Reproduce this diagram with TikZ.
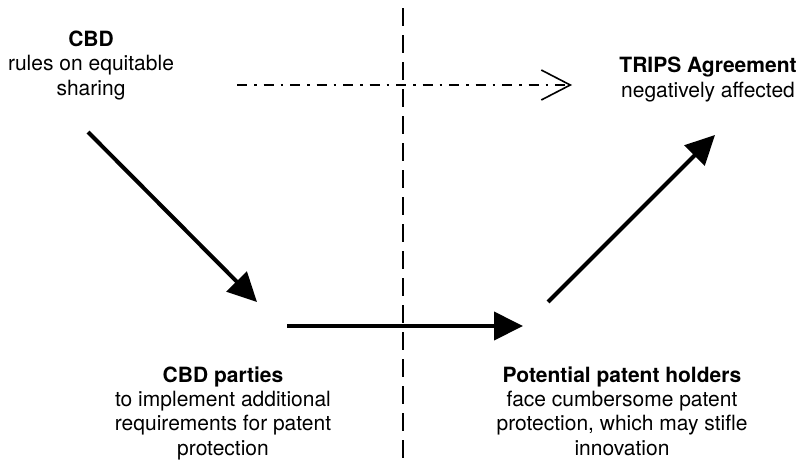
\documentclass[tikz,border=0pt]{standalone}
\usepackage{fontspec}
\setmainfont{TeX Gyre Heros}
\usetikzlibrary{arrows.meta}

\begin{document}
\begin{tikzpicture}[x=1pt,y=-1pt,
    txt/.style={align=center,anchor=base,inner sep=0pt,font=\fontsize{21}{24.3}\selectfont},
    flow/.style={line width=4pt,-{Triangle[length=29pt,width=28pt]}},
    hint/.style={line width=1.6pt,dash pattern=on 10pt off 7pt on 2.5pt off 7pt,
        -{Straight Barb[length=29pt,width=30pt,line width=1.6pt]}},
    border/.style={line width=2.2pt,dash pattern=on 18pt off 9pt}
  ]
    \useasboundingbox (0,0) rectangle (805,464);

    % the four parties (placed by the baseline of their last line)
    \node[txt] (cbd) at (91,95) {\textbf{CBD}\\rules on equitable\\sharing};
    \node[txt] (trips) at (708,97) {\textbf{TRIPS Agreement}\\negatively affected};
    \node[txt] (parties) at (223,455) {\textbf{CBD parties}\\to implement additional\\requirements for patent\\protection};
    \node[txt] (holders) at (622,455) {\textbf{Potential patent holders}\\face cumbersome patent\\protection, which may stifle\\innovation};

    % arrow ends
    \coordinate (s1) at (88,132);  \coordinate (e1) at (257,302);
    \coordinate (s2) at (287,326); \coordinate (e2) at (523,326);
    \coordinate (s3) at (548,302); \coordinate (e3) at (715,135);
    \coordinate (s4) at (237,85);  \coordinate (e4) at (572,85);
    \coordinate (top) at (403,8);  \coordinate (bot) at (403,458);

    \draw[border] (top) -- (bot);
    \draw[hint] (s4) -- (e4);
    \draw[flow] (s1) -- (e1);
    \draw[flow] (s2) -- (e2);
    \draw[flow] (s3) -- (e3);
\end{tikzpicture}
\end{document}
